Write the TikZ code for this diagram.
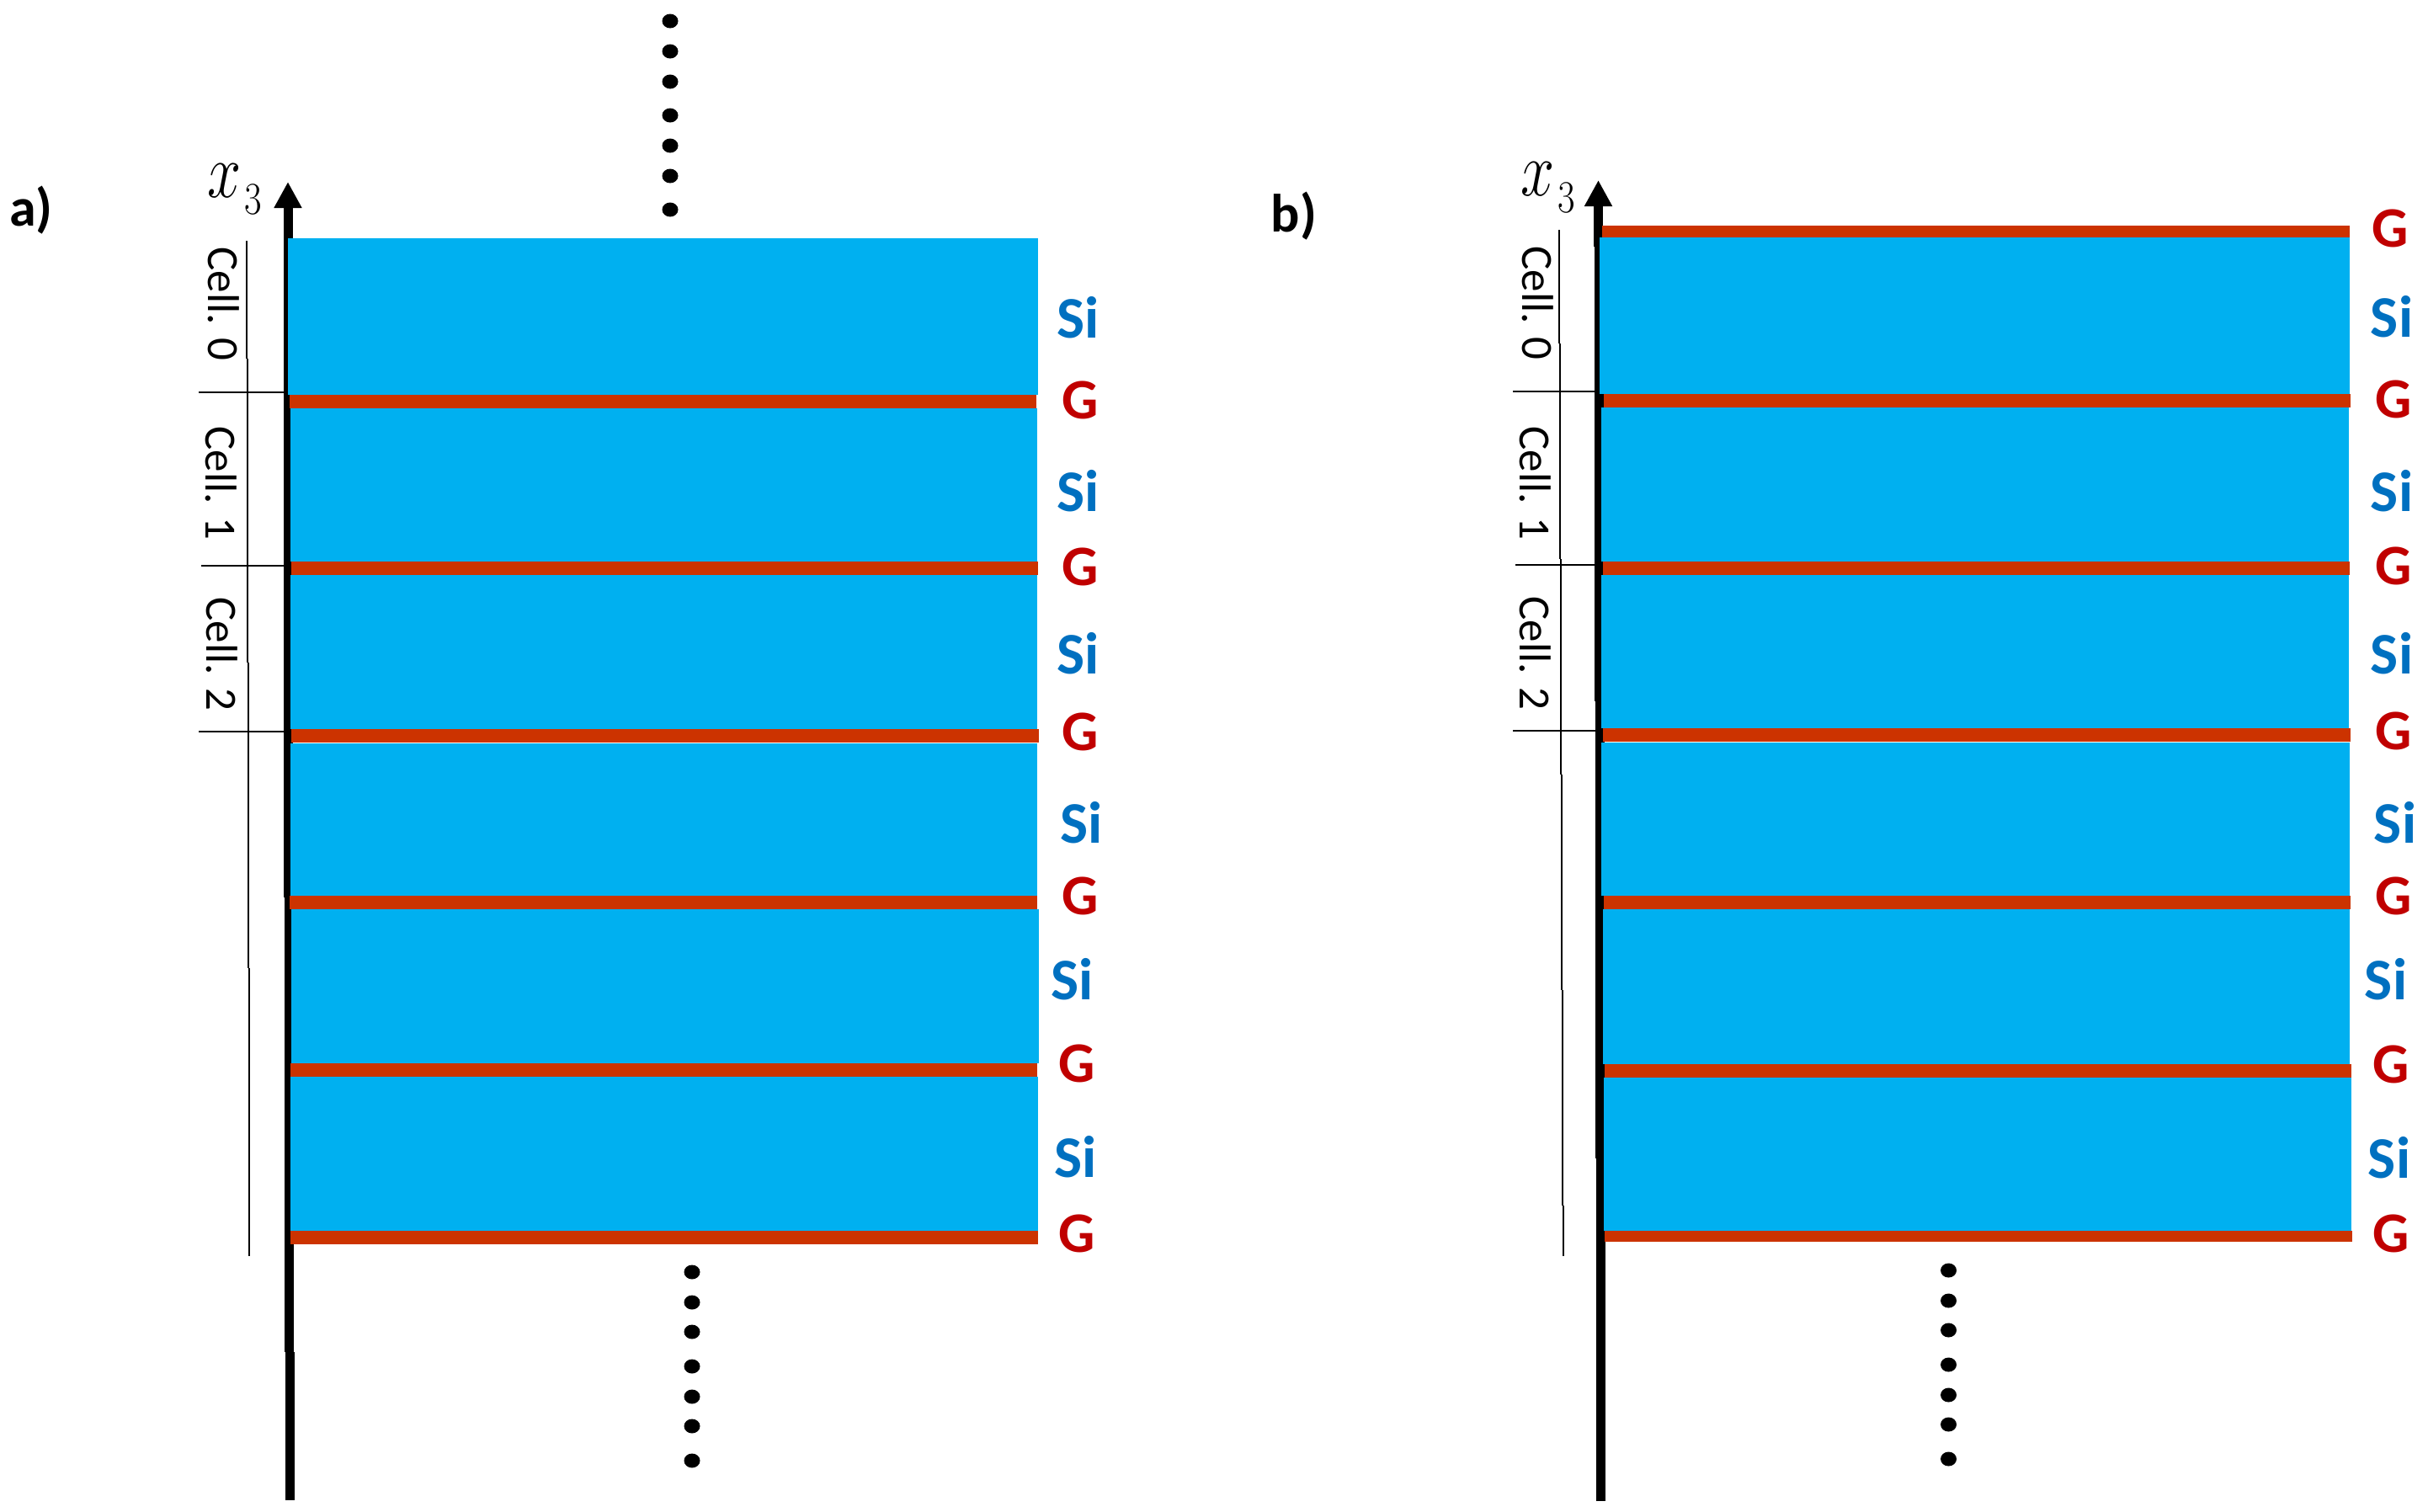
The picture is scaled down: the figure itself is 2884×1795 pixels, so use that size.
\documentclass[tikz,border=0pt]{standalone}
\usepackage{fontspec}
\setmainfont{Carlito}
\usetikzlibrary{arrows.meta}

\definecolor{layerSi}{HTML}{00B0F0}
\definecolor{layerG}{HTML}{CC3300}
\definecolor{labelSi}{HTML}{0070C0}
\definecolor{labelG}{HTML}{C00000}

\newcommand{\xthree}{\scalebox{1.45}[1.85]{$x$}\hspace{1.75pt}\raisebox{-10pt}{\scalebox{.9}[1.09]{$3$}}}

\tikzset{
  silab/.style={inner sep=0pt, xshift=0.75pt, text=labelSi, font=\fontsize{35}{35}\selectfont\bfseries},
  glab/.style={inner sep=0pt, xshift=0.75pt, text=labelG, font=\fontsize{34}{34}\selectfont\bfseries},
  celllab/.style={inner sep=0pt, rotate=-90, font=\fontsize{26.5}{26.5}\selectfont},
  panellab/.style={inner sep=0pt, font=\fontsize{32}{32}\selectfont\bfseries},
  axislab/.style={inner sep=0pt, font=\Huge},
  axisline/.style={line width=5.5pt},
  thinline/.style={line width=1pt}
}

\begin{document}
\begin{tikzpicture}[x=0.5pt, y=-0.5pt]
  \useasboundingbox (0,0) rectangle (2884,1795);

  % Panel a: eksen
  \draw[axisline] (344.5,1782) -- (344.5,1606);
  \draw[axisline] (343.5,1606) -- (343.5,1066);
  \draw[axisline, -{Triangle[length=15.5pt, width=15.5pt]}] (342,1066) -- (342,216);
  \node[axislab] (xa) at (278.5,225) {\xthree};

  % Panel a: ince cizgiler
  \foreach \xx/\ya/\yb in {293/286/426, 294/426/787, 295/787/1150, 296/1150/1492}
    \draw[thinline] (\xx,\ya) -- (\xx,\yb);
  \foreach \xx/\yy in {236/466, 239/672, 236/869}
    \draw[thinline] (\xx,\yy) -- (337,\yy);

  % Panel a: katmanlar
  \foreach \xl/\yt/\xr/\yb in {342/283/1233/469, 345/485/1232/667, 345/683/1232/866,
      345/883/1232/1064, 346/1080/1234/1263, 345/1279/1233/1462}
    \fill[layerSi] (\xl,\yt) rectangle (\xr,\yb);
  \foreach \xl/\yt/\xr/\yb in {344/469/1231/485, 346/667/1233/683, 346/866/1234/882,
      344/1064/1232/1080, 345/1263/1232/1279, 345/1462/1233/1478}
    \fill[layerG] (\xl,\yt) rectangle (\xr,\yb);

  \foreach \i/\xx/\yy in {0/1279.5/377, 1/1279.5/583.5, 2/1279.5/776.5,
      3/1283.5/977.5, 4/1272.5/1163.5, 5/1276.5/1374.5}
    \node[silab] (sia\i) at (\xx,\yy) {Si};
  \foreach \i/\xx/\yy in {0/1281.5/475.5, 1/1281.5/673.5, 2/1281.5/869.5,
      3/1281.5/1064.5, 4/1277.5/1263.5, 5/1277.5/1465.5}
    \node[glab] (ga\i) at (\xx,\yy) {G};

  \node[panellab] (pa) at (37,250) {a)};
  \node[celllab] (cella0) at (266,361) {Cell. 0};
  \node[celllab] (cella1) at (263,574) {Cell. 1};
  \node[celllab] (cella2) at (263.5,777) {Cell. 2};

  % Panel a: noktalar
  \foreach \yy in {25,61,97,137,173,209,249}
    \fill (796,\yy) ellipse [x radius=9.5, y radius=8.5];
  \foreach \yy in {1511,1547,1582,1623,1659,1694,1735}
    \fill (822,\yy) ellipse [x radius=9.5, y radius=8.5];

  % Panel b: eksen
  \draw[axisline] (1901.5,1783) -- (1901.5,1376);
  \draw[axisline] (1900.5,1376) -- (1900.5,833);
  \draw[axisline] (1899.5,833) -- (1899.5,293);
  \draw[axisline, -{Triangle[length=15.5pt, width=15.5pt]}] (1898.5,293) -- (1898.5,214);
  \node[axislab] (xb) at (1839,222.5) {\xthree};

  % Panel b: ince cizgiler
  \foreach \xx/\ya/\yb in {1852/273/408, 1853/408/664, 1854/664/920, 1855/920/1176,
      1856/1176/1432, 1857/1432/1492}
    \draw[thinline] (\xx,\ya) -- (\xx,\yb);
  \foreach \xx/\yy in {1797/465, 1800/671, 1797/868}
    \draw[thinline] (\xx,\yy) -- (1895,\yy);

  % Panel b: katmanlar
  \foreach \xl/\yt/\xr/\yb in {1900/282/2791/468, 1902/484/2790/667, 1902/683/2790/865,
      1902/882/2791/1064, 1904/1080/2791/1264, 1905/1280/2793/1462}
    \fill[layerSi] (\xl,\yt) rectangle (\xr,\yb);
  \foreach \xl/\yt/\xr/\yb in {1903/268/2791/282, 1905/468/2792/484, 1904/667/2791/683,
      1904/865/2792/881, 1905/1064/2792/1080, 1906/1264/2793/1280, 1906/1462/2794/1475}
    \fill[layerG] (\xl,\yt) rectangle (\xr,\yb);

  \foreach \i/\xx/\yy in {0/2839.5/376, 1/2839.5/583.5, 2/2839.5/776.5,
      3/2843.5/977.5, 4/2832.5/1163.5, 5/2836.5/1375}
    \node[silab] (sib\i) at (\xx,\yy) {Si};
  \foreach \i/\xx/\yy in {0/2838/271.5, 1/2841.5/474.5, 2/2841.5/672.5, 3/2841.5/868.5,
      4/2841.5/1064.5, 5/2838.5/1264.5, 6/2838.5/1465.5}
    \node[glab] (gb\i) at (\xx,\yy) {G};

  \node[panellab] (pb) at (1537,257) {b)};
  \node[celllab] (cellb0) at (1826.5,360) {Cell. 0};
  \node[celllab] (cellb1) at (1824,574) {Cell. 1};
  \node[celllab] (cellb2) at (1823.5,776) {Cell. 2};

  % Panel b: noktalar
  \foreach \yy in {1509,1545,1580,1621,1657,1692,1733}
    \fill (2314.5,\yy) ellipse [x radius=9.5, y radius=8.5];
\end{tikzpicture}
\end{document}
